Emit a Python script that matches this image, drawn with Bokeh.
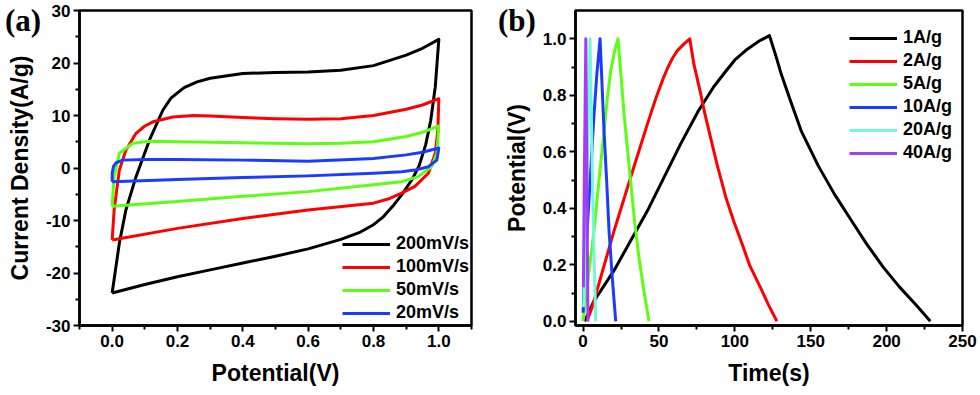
from bokeh.plotting import figure
from bokeh.models import FixedTicker, Range1d, GridBox, Div
from bokeh.embed import file_html
from bokeh.resources import INLINE

# ---------------- Panel (a): cyclic voltammetry ----------------
cv_labels = ["200mV/s", "100mV/s", "50mV/s", "20mV/s"]
cv_colors = ["#000000", "#FF0000", "#5CFF14", "#1A3CFF"]

cv200_v = [0.0, 0.022, 0.042, 0.073, 0.114, 0.155, 0.18, 0.22, 0.26, 0.3, 0.4, 0.5, 0.6, 0.7, 0.8, 0.9, 0.95, 1.0,
           0.989, 0.975, 0.96, 0.94, 0.92, 0.89, 0.86, 0.83, 0.8, 0.76, 0.7, 0.6, 0.5, 0.4, 0.3, 0.2, 0.1, 0.0]
cv200_i = [-23.8, -14.3, -8.0, -1.65, 5.3, 11.0, 13.3, 15.3, 16.4, 17.1, 18.0, 18.2, 18.3, 18.6, 19.5, 21.5, 22.8, 24.5,
           15.4, 9.0, 4.5, 0.5, -2.0, -4.8, -7.2, -9.3, -10.8, -12.2, -13.6, -15.4, -16.8, -18.1, -19.4, -20.7, -22.2, -23.8]

cv100_v = [0.0, 0.006, 0.022, 0.042, 0.073, 0.1, 0.125, 0.186, 0.25, 0.3, 0.4, 0.5, 0.6, 0.7, 0.8, 0.9, 0.95, 1.0,
           0.997, 0.989, 0.968, 0.927, 0.886, 0.85, 0.8, 0.6, 0.4, 0.2, 0.0]
cv100_i = [-13.7, -8.0, -0.4, 3.4, 6.6, 8.0, 8.8, 9.7, 10.0, 9.9, 9.6, 9.4, 9.3, 9.4, 10.0, 11.2, 12.0, 13.2,
           7.2, 2.8, -1.0, -3.5, -4.8, -5.8, -6.7, -8.0, -9.6, -11.5, -13.7]

cv50_v = [0.0, 0.006, 0.022, 0.063, 0.114, 0.2, 0.4, 0.6, 0.7, 0.8, 0.9, 0.95, 1.0,
          0.994, 0.978, 0.937, 0.886, 0.8, 0.6, 0.4, 0.2, 0.0]
cv50_i = [-7.3, -1.6, 2.8, 4.7, 5.1, 5.0, 4.8, 4.6, 4.7, 5.0, 6.0, 6.8, 8.0,
          2.8, 0.25, -1.65, -2.6, -3.2, -4.5, -5.4, -6.4, -7.3]

cv20_v = [0.0, 0.0, 0.004, 0.012, 0.032, 0.1, 0.2, 0.4, 0.6, 0.8, 0.9, 0.95, 1.0,
          0.994, 0.968, 0.927, 0.886, 0.8, 0.6, 0.4, 0.2, 0.0]
cv20_i = [-2.6, -1.0, 0.3, 1.0, 1.5, 1.6, 1.6, 1.5, 1.3, 1.8, 2.5, 3.0, 3.8,
          1.5, 0.25, -0.4, -0.7, -1.0, -1.5, -1.8, -2.2, -2.6]

a_xticks = [0.0, 0.2, 0.4, 0.6, 0.8, 1.0]
a_xtick_labels = ["0.0", "0.2", "0.4", "0.6", "0.8", "1.0"]
a_xminor = [-0.1, 0.1, 0.3, 0.5, 0.7, 0.9, 1.1]
a_yticks = [-30, -20, -10, 0, 10, 20, 30]
a_ytick_labels = ["-30", "-20", "-10", "0", "10", "20", "30"]
a_yminor = [-25, -15, -5, 5, 15, 25]

# ---------------- Panel (b): galvanostatic charge/discharge ----------------
gcd_labels = ["1A/g", "2A/g", "5A/g", "10A/g", "20A/g", "40A/g"]
gcd_colors = ["#000000", "#FF0000", "#5CFF14", "#1A3CFF", "#74F7DA", "#A33FF2"]

gcd1_t = [1, 7, 20.4, 42.3, 64.2, 76, 86.1, 94, 100, 108, 116, 122.8,
          127, 130.6, 137, 143.7, 155, 165.6, 177, 186.9, 198, 208.7, 219, 228.8]
gcd1_v = [0.0, 0.07, 0.18, 0.39, 0.627, 0.745, 0.83, 0.885, 0.925, 0.962, 0.992, 1.011,
          0.94, 0.874, 0.775, 0.674, 0.55, 0.45, 0.355, 0.273, 0.19, 0.12, 0.06, 0.0]

gcd2_t = [2.5, 6, 11.6, 20.4, 31.3, 42.3, 48, 53.2, 56, 59, 62, 66.5, 70.3,
          73, 77.3, 80, 84, 88.5, 94, 99.2, 104, 110, 116.8, 122, 127.7]
gcd2_v = [0.0, 0.05, 0.155, 0.32, 0.509, 0.697, 0.79, 0.865, 0.9, 0.932, 0.957, 0.982, 1.0,
          0.91, 0.81, 0.74, 0.65, 0.55, 0.44, 0.355, 0.285, 0.195, 0.12, 0.06, 0.0]

gcd5_t = [0, 3, 7.2, 10.5, 13.8, 16, 18.2, 20.5, 23, 25, 27, 31.3, 34, 36.8, 40, 43.4]
gcd5_v = [0.0, 0.14, 0.32, 0.5, 0.674, 0.79, 0.886, 0.95, 1.0, 0.87, 0.733, 0.497, 0.35, 0.226, 0.11, 0.0]

gcd10_t = [0, 0.6, 3, 5, 7.2, 9, 11.2, 12.3, 13.8, 15.5, 17.1, 19.3, 21.5]
gcd10_v = [0.03, 0.12, 0.35, 0.53, 0.73, 0.87, 1.0, 0.86, 0.674, 0.5, 0.32, 0.15, 0.0]

gcd20_t = [0.3, 1.0, 2.3, 3.5, 4.6, 5.4, 6.5, 8.3]
gcd20_v = [0.05, 0.13, 0.45, 0.75, 1.0, 0.75, 0.4, 0.0]

gcd40_t = [0.2, 0.8, 1.8, 2.4, 3.2]
gcd40_v = [0.12, 0.5, 1.0, 0.6, 0.0]

b_xticks = [0, 50, 100, 150, 200, 250]
b_xtick_labels = ["0", "50", "100", "150", "200", "250"]
b_xminor = [25, 75, 125, 175, 225]
b_yticks = [0.0, 0.2, 0.4, 0.6, 0.8, 1.0]
b_ytick_labels = ["0.0", "0.2", "0.4", "0.6", "0.8", "1.0"]
b_yminor = [0.1, 0.3, 0.5, 0.7, 0.9]

FONT = "Liberation Sans"


def style(p, xt, xtl, xm, yt, ytl, ym):
    p.xgrid.visible = False
    p.ygrid.visible = False
    p.outline_line_color = "black"
    p.outline_line_width = 2.5
    p.outline_line_alpha = 1.0
    p.background_fill_color = "white"
    p.border_fill_alpha = 0
    p.xaxis.ticker = FixedTicker(ticks=xt, minor_ticks=xm)
    p.yaxis.ticker = FixedTicker(ticks=yt, minor_ticks=ym)
    p.xaxis.major_label_overrides = {v: s for v, s in zip(xt, xtl)}
    p.yaxis.major_label_overrides = {v: s for v, s in zip(yt, ytl)}
    for ax in p.axis:
        ax.axis_line_width = 2.5
        ax.axis_line_color = "black"
        ax.major_tick_line_width = 2
        ax.minor_tick_line_width = 2
        ax.major_tick_line_color = "black"
        ax.minor_tick_line_color = "black"
        ax.major_tick_out = 6
        ax.major_tick_in = 0
        ax.minor_tick_out = 4
        ax.minor_tick_in = 0
        ax.major_label_text_font = FONT
        ax.major_label_text_font_style = "bold"
        ax.major_label_text_font_size = "17px"
        ax.major_label_text_color = "black"
        ax.major_label_standoff = 3
        ax.axis_label_text_font = FONT
        ax.axis_label_text_font_style = "bold"
        ax.axis_label_text_font_size = "23px"
        ax.axis_label_text_color = "black"
        ax.axis_label_standoff = 10


def style_legend(p, loc):
    lg = p.legend[0]
    lg.location = loc
    lg.padding = 0
    lg.margin = 0
    lg.border_line_color = None
    lg.background_fill_alpha = 0
    lg.glyph_width = 48
    lg.glyph_height = 20
    lg.label_height = 20
    lg.spacing = 2
    lg.label_standoff = 6
    lg.label_text_font = FONT
    lg.label_text_font_style = "bold"
    lg.label_text_font_size = "18px"
    lg.label_text_color = "black"


def panel_tag(text, pad_left):
    # panel letter laid over the top-left corner of its plot cell
    return Div(text=text, width=50, height=42,
               styles={"font-family": "Liberation Serif", "font-weight": "bold", "font-size": "31px",
                       "line-height": "1", "color": "black", "padding-left": f"{pad_left}px",
                       "padding-top": "0px", "background": "transparent"})


# ---- figure (a)
pa = figure(width=490, height=395, output_backend="svg", toolbar_location=None,
            x_range=Range1d(-0.1, 1.1), y_range=Range1d(-30, 30),
            min_border_left=79, min_border_right=19, min_border_top=10, min_border_bottom=69,
            x_axis_label="Potential(V)", y_axis_label="Current Density(A/g)")
cv_x = [cv200_v, cv100_v, cv50_v, cv20_v]
cv_y = [cv200_i, cv100_i, cv50_i, cv20_i]
for xs, ys, c, lab in zip(cv_x, cv_y, cv_colors, cv_labels):
    pa.line(xs, ys, line_color=c, line_width=3, line_join="round", legend_label=lab)
style(pa, a_xticks, a_xtick_labels, a_xminor, a_yticks, a_ytick_labels, a_yminor)
style_legend(pa, (263, 2))

# ---- figure (b)
pb = figure(width=490, height=395, output_backend="svg", toolbar_location=None,
            x_range=Range1d(-5, 250), y_range=Range1d(-0.015, 1.1),
            min_border_left=85, min_border_right=18, min_border_top=10, min_border_bottom=70,
            x_axis_label="Time(s)", y_axis_label="Potential(V)")
gcd_x = [gcd1_t, gcd2_t, gcd5_t, gcd10_t, gcd20_t, gcd40_t]
gcd_y = [gcd1_v, gcd2_v, gcd5_v, gcd10_v, gcd20_v, gcd40_v]
for xs, ys, c, lab in zip(gcd_x, gcd_y, gcd_colors, gcd_labels):
    pb.line(xs, ys, line_color=c, line_width=3, line_join="round", legend_label=lab)
style(pb, b_xticks, b_xtick_labels, b_xminor, b_yticks, b_ytick_labels, b_yminor)
style_legend(pb, (274, 162))

tag_a = panel_tag("(a)", 0)
tag_b = panel_tag("(b)", 3)

layout = GridBox(children=[(pa, 0, 0), (tag_a, 0, 0), (pb, 0, 1), (tag_b, 0, 1)], spacing=0)
open("out.html", "w").write(file_html(layout, INLINE))
